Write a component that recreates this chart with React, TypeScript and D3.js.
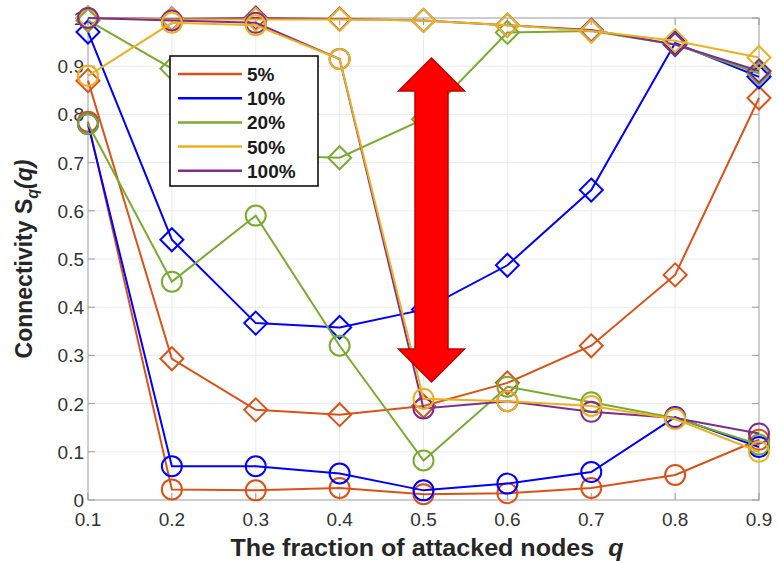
import * as d3 from 'd3';

const qValues = [0.1, 0.2, 0.3, 0.4, 0.5, 0.6, 0.7, 0.8, 0.9];
const xTicks = [0.1, 0.2, 0.3, 0.4, 0.5, 0.6, 0.7, 0.8, 0.9];
const yTicks = [0, 0.1, 0.2, 0.3, 0.4, 0.5, 0.6, 0.7, 0.8, 0.9, 1];
const seriesNames = ['5%', '10%', '20%', '50%', '100%'];
const seriesColors = ['#D95319', '#0000FF', '#77AC30', '#EDB120', '#7E2F8E'];

// diamond-marker curves
const diamond5 = [0.87, 0.293, 0.187, 0.177, 0.195, 0.243, 0.32, 0.467, 0.834];
const diamond10 = [0.971, 0.54, 0.367, 0.358, 0.395, 0.487, 0.643, 0.948, 0.878];
const diamond20 = [0.995, 0.895, 0.715, 0.71, 0.79, 0.97, 0.973, 0.945, 0.885];
const diamond50 = [1.0, 0.997, 0.997, 0.997, 0.995, 0.985, 0.973, 0.953, 0.918];
const diamond100 = [1.0, 0.998, 1.0, 0.998, 0.995, 0.985, 0.975, 0.945, 0.89];

// circle-marker curves
const circle5 = [0.785, 0.022, 0.02, 0.025, 0.012, 0.014, 0.025, 0.052, 0.125];
const circle10 = [0.78, 0.07, 0.07, 0.055, 0.02, 0.034, 0.058, 0.172, 0.11];
const circle20 = [0.78, 0.453, 0.59, 0.32, 0.082, 0.235, 0.203, 0.17, 0.115];
const circle50 = [0.88, 0.99, 0.985, 0.915, 0.21, 0.205, 0.195, 0.168, 0.1];
const circle100 = [1.0, 0.995, 0.99, 0.915, 0.19, 0.205, 0.183, 0.17, 0.138];

const diamondSeries = [diamond5, diamond10, diamond20, diamond50, diamond100];
const circleSeries = [circle5, circle10, circle20, circle50, circle100];
// yellow ends up on top of purple in the original
const drawOrder = [0, 1, 2, 4, 3];

const width = 777;
const height = 563;
const margin = { top: 18, right: 18, bottom: 63, left: 88 };

const x = d3.scaleLinear().domain([0.1, 0.9]).range([margin.left, width - margin.right]);
const y = d3.scaleLinear().domain([0, 1]).range([height - margin.bottom, margin.top]);

const line = d3
  .line<number>()
  .x((_, i) => x(qValues[i]))
  .y((d) => y(d));

const font = '"Liberation Sans", Arial, Helvetica, sans-serif';

const Diamond = ({ cx, cy, color }: { cx: number; cy: number; color: string }) => {
  const r = 11.5;
  return (
    <path
      d={`M${cx},${cy - r}L${cx + r},${cy}L${cx},${cy + r}L${cx - r},${cy}Z`}
      fill="none"
      stroke={color}
      strokeWidth={2}
    />
  );
};

export default function App() {
  const [x0, x1] = x.range();
  const [y0, y1] = y.range();

  // double arrow, in pixel space around q = 0.5
  const ax = x(0.5) + 8;
  const aTop = y(0.917);
  const aBot = y(0.245);
  const headH = 33;
  const headW = 33;
  const shaftW = 16.5;
  const arrowPath = [
    `M${ax},${aTop}`,
    `L${ax + headW},${aTop + headH}`,
    `L${ax + shaftW},${aTop + headH}`,
    `L${ax + shaftW},${aBot - headH}`,
    `L${ax + headW},${aBot - headH}`,
    `L${ax},${aBot}`,
    `L${ax - headW},${aBot - headH}`,
    `L${ax - shaftW},${aBot - headH}`,
    `L${ax - shaftW},${aTop + headH}`,
    `L${ax - headW},${aTop + headH}`,
    'Z',
  ].join('');

  const legX = 170;
  const legY = 56;
  const legW = 148;
  const legH = 130;
  const rowH = 24.2;

  return (
    <svg
      width={width}
      height={height}
      style={{ position: 'absolute', left: 0, top: 0, background: '#fff' }}
      fontFamily={font}
    >
      {/* grid */}
      {xTicks.map((t) => (
        <line key={`gx${t}`} x1={x(t)} x2={x(t)} y1={y1} y2={y0} stroke="#ebebeb" strokeWidth={1} />
      ))}
      {yTicks.map((t) => (
        <line key={`gy${t}`} x1={x0} x2={x1} y1={y(t)} y2={y(t)} stroke="#ebebeb" strokeWidth={1} />
      ))}

      {/* box */}
      <rect x={x0} y={y1} width={x1 - x0} height={y0 - y1} fill="none" stroke="#b3b3b3" strokeWidth={1.2} />
      {xTicks.map((t) => (
        <g key={`tx${t}`}>
          <line x1={x(t)} x2={x(t)} y1={y0} y2={y0 - 7} stroke="#9a9a9a" />
          <line x1={x(t)} x2={x(t)} y1={y1} y2={y1 + 7} stroke="#9a9a9a" />
        </g>
      ))}
      {yTicks.map((t) => (
        <g key={`ty${t}`}>
          <line x1={x0} x2={x0 + 7} y1={y(t)} y2={y(t)} stroke="#9a9a9a" />
          <line x1={x1} x2={x1 - 7} y1={y(t)} y2={y(t)} stroke="#9a9a9a" />
        </g>
      ))}

      {/* tick labels */}
      {xTicks.map((t) => (
        <text key={`lx${t}`} x={x(t)} y={y0 + 26} textAnchor="middle" fontSize={19} fill="#333">
          {t.toFixed(1)}
        </text>
      ))}
      {yTicks.map((t) => (
        <text key={`ly${t}`} x={x0 - 4} y={y(t) + 7} textAnchor="end" fontSize={19} fill="#333">
          {t === 0 || t === 1 ? String(t) : t.toFixed(1)}
        </text>
      ))}

      {/* series */}
      {drawOrder.map((s) => (
        <g key={`d${s}`}>
          <path d={line(diamondSeries[s]) ?? ''} fill="none" stroke={seriesColors[s]} strokeWidth={2} />
          {diamondSeries[s].map((v, i) => (
            <Diamond key={i} cx={x(qValues[i])} cy={y(v)} color={seriesColors[s]} />
          ))}
        </g>
      ))}
      {drawOrder.map((s) => (
        <g key={`c${s}`}>
          <path d={line(circleSeries[s]) ?? ''} fill="none" stroke={seriesColors[s]} strokeWidth={2} />
          {circleSeries[s].map((v, i) => (
            <circle
              key={i}
              cx={x(qValues[i])}
              cy={y(v)}
              r={10}
              fill="none"
              stroke={seriesColors[s]}
              strokeWidth={2}
            />
          ))}
        </g>
      ))}

      {/* arrow */}
      <path d={arrowPath} fill="#ff0000" stroke="#c00000" strokeWidth={1.5} strokeLinejoin="miter" />

      {/* legend */}
      <rect x={legX} y={legY} width={legW} height={legH} fill="#fff" stroke="#000" strokeWidth={1.5} />
      {seriesNames.map((n, i) => {
        const ry = legY + 18 + i * rowH;
        return (
          <g key={n}>
            <line x1={legX + 8} x2={legX + 72} y1={ry} y2={ry} stroke={seriesColors[i]} strokeWidth={2.5} />
            <text x={legX + 77} y={ry + 7} fontSize={19} fontWeight="bold" fill="#1a1a1a">
              {n}
            </text>
          </g>
        );
      })}

      {/* axis titles */}
      <text
        x={427}
        y={556}
        textAnchor="middle"
        fontSize={24}
        fontWeight="bold"
        fill="#262626"
        textLength={393}
        lengthAdjust="spacingAndGlyphs"
      >
        The fraction of attacked nodes{'\u00a0\u00a0'}
        <tspan fontStyle="italic">q</tspan>
      </text>
      <text
        transform={`translate(32,259) rotate(-90)`}
        textAnchor="middle"
        fontSize={23}
        fontWeight="bold"
        fill="#262626"
      >
        Connectivity S
        <tspan fontStyle="italic" fontSize={16} dy={6}>
          q
        </tspan>
        <tspan fontStyle="italic" dy={-6}>
          (q)
        </tspan>
      </text>
    </svg>
  );
}
